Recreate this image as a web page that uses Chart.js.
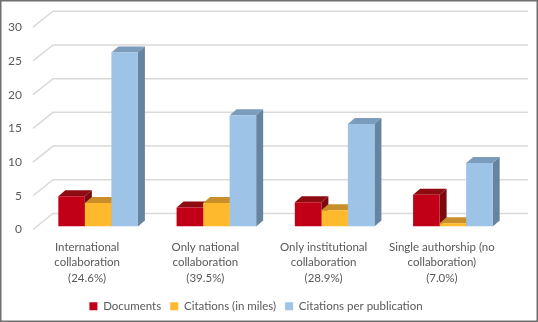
<!DOCTYPE html>
<html>
<head>
<meta charset="utf-8">
<script src="https://cdn.jsdelivr.net/npm/chart.js@4"></script>
<style>
  html, body { margin: 0; padding: 0; background: #fff; }
  #wrap { width: 538px; height: 322px; position: relative; }
</style>
</head>
<body>
<div id="wrap"><canvas id="chart"></canvas></div>
<script>
// values
const categories = [
  ['International', 'collaboration', '(24.6%)'],
  ['Only national', 'collaboration', '(39.5%)'],
  ['Only institutional', 'collaboration', '(28.9%)'],
  ['Single authorship (no', 'collaboration)', '(7.0%)'],
];
const documents = [4.5, 2.8, 3.6, 4.7];
const citations = [3.5, 3.5, 2.4, 0.5];
const citationsPerPub = [25.8, 16.5, 15.2, 9.4];
const yTicks = [0, 5, 10, 15, 20, 25, 30];

// front / top / side colours for the fake 3D columns
const FACES = [
  { front: '#C10018', top: '#8E0B12', side: '#7A0A0C' },
  { front: '#FFB92C', top: '#C98F2B', side: '#B07C26' },
  { front: '#9DC3E6', top: '#7C9CBB', side: '#66849F' },
];
const DEPTH = { dx: 7, dy: -6 };      // column depth
const WALL = { dx: 20, dy: -16 };     // back wall offset for gridlines

// gridlines on the back wall, then tops/sides of columns (fronts are drawn by Chart.js)
const threeD = {
  id: 'threeD',
  beforeDatasetsDraw(chart) {
    const { ctx, chartArea } = chart;
    const y = chart.scales.y;
    ctx.save();
    ctx.strokeStyle = '#d9d9d9';
    ctx.lineWidth = 1.5;
    yTicks.forEach(v => {
      const py = y.getPixelForValue(v) + 3;
      const x0 = chartArea.left - 6;
      ctx.beginPath();
      ctx.moveTo(x0, py);
      ctx.lineTo(x0 + WALL.dx, py + WALL.dy);
      ctx.lineTo(chartArea.right + 16, py + WALL.dy);
      ctx.stroke();
    });
    chart.data.datasets.forEach((ds, di) => {
      const meta = chart.getDatasetMeta(di);
      const f = FACES[di];
      meta.data.forEach(bar => {
        const l = bar.x - bar.width / 2, r = bar.x + bar.width / 2;
        const t = bar.y, b = bar.base;
        ctx.fillStyle = f.top;
        ctx.beginPath();
        ctx.moveTo(l, t); ctx.lineTo(r, t);
        ctx.lineTo(r + DEPTH.dx, t + DEPTH.dy); ctx.lineTo(l + DEPTH.dx, t + DEPTH.dy);
        ctx.closePath(); ctx.fill();
        ctx.fillStyle = f.side;
        ctx.beginPath();
        ctx.moveTo(r, t); ctx.lineTo(r + DEPTH.dx, t + DEPTH.dy);
        ctx.lineTo(r + DEPTH.dx, b + DEPTH.dy); ctx.lineTo(r, b);
        ctx.closePath(); ctx.fill();
      });
    });
    ctx.restore();
  },
  afterDraw(chart) {
    const ctx = chart.ctx;
    ctx.save();
    ctx.strokeStyle = '#707070';
    ctx.lineWidth = 1.5;
    ctx.strokeRect(0.75, 0.75, chart.width - 1.5, chart.height - 1.5);
    ctx.restore();
  },
};

const FONT = { family: 'Lato, "Open Sans", sans-serif', size: 11.5 };

new Chart(document.getElementById('chart'), {
  type: 'bar',
  data: {
    labels: categories,
    datasets: [
      { label: 'Documents', data: documents, backgroundColor: FACES[0].front },
      { label: 'Citations (in miles)', data: citations, backgroundColor: FACES[1].front },
      { label: 'Citations per publication', data: citationsPerPub, backgroundColor: FACES[2].front },
    ],
  },
  options: {
    responsive: true,
    maintainAspectRatio: false,
    animation: false,
    datasets: { bar: { categoryPercentage: 0.673, barPercentage: 1 } },
    layout: { padding: { top: 23, right: 26, left: 0, bottom: 0 } },
    plugins: {
      tooltip: { enabled: false },
      legend: {
        position: 'bottom',
        labels: { boxWidth: 8, boxHeight: 8, padding: 9, color: '#595959', font: FONT },
      },
    },
    scales: {
      x: {
        grid: { display: false, drawTicks: false },
        border: { display: false },
        ticks: { color: '#595959', font: { ...FONT, lineHeight: 1.35 }, padding: 13, labelOffset: -11, maxRotation: 0, autoSkip: false },
        afterFit: s => { s.height = 65; },
      },
      y: {
        min: 0, max: 30,
        grid: { display: false, drawTicks: false },
        border: { display: false },
        ticks: { stepSize: 5, color: '#595959', font: { ...FONT, size: 12 }, padding: 17, labelOffset: 3 },
        afterFit: s => { s.width = 39; },
      },
    },
  },
  plugins: [threeD],
});
</script>
</body>
</html>
